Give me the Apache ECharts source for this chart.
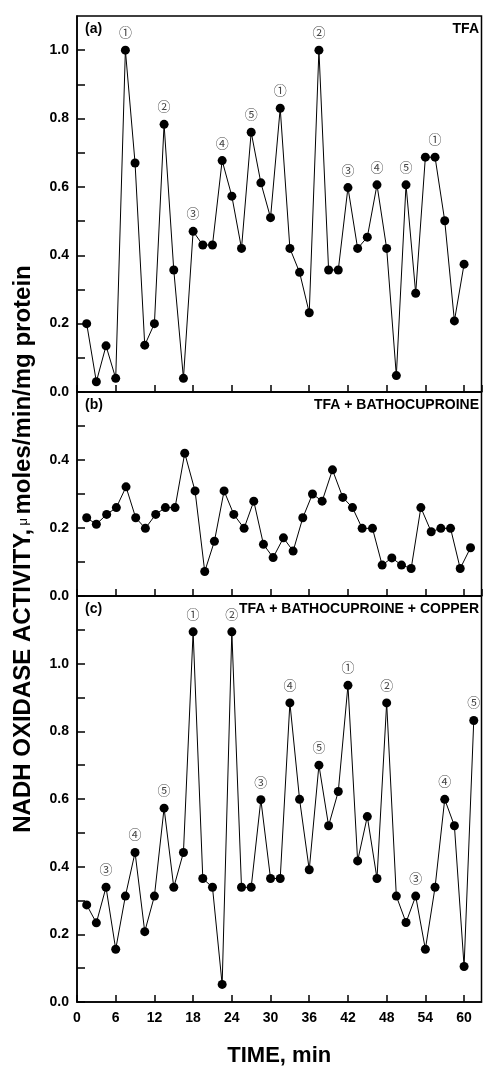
<!DOCTYPE html>
<html>
<head>
<meta charset="utf-8">
<script src="https://cdn.jsdelivr.net/npm/echarts@6/dist/echarts.min.js"></script>
<style>
  html, body { margin: 0; padding: 0; background: #fff; }
  #chart { width: 484px; height: 1068px; }
</style>
</head>
<body>
<div id="chart"></div>
<script>
// panel (a) TFA
var timesA = [1.5, 3, 4.5, 6, 7.5, 9, 10.5, 12, 13.5, 15, 16.5, 18, 19.5, 21, 22.5, 24, 25.5, 27, 28.5, 30,
  31.5, 33, 34.5, 36, 37.5, 39, 40.5, 42, 43.5, 45, 46.5, 48, 49.5, 51, 52.5, 54, 55.5, 57, 58.5, 60];
var valsA = [0.20, 0.03, 0.135, 0.04, 1.0, 0.67, 0.137, 0.20, 0.783, 0.357, 0.04, 0.47, 0.43, 0.43, 0.677, 0.573, 0.42, 0.76, 0.612, 0.51,
  0.83, 0.42, 0.35, 0.232, 1.0, 0.357, 0.357, 0.598, 0.42, 0.453, 0.606, 0.42, 0.048, 0.606, 0.289, 0.687, 0.687, 0.501, 0.208, 0.374];
var marksA = [[4, '①'], [8, '②'], [11, '③'], [14, '④'], [17, '⑤'], [20, '①'], [24, '②'], [27, '③'], [30, '④'], [33, '⑤'], [36, '①']];

// panel (b) TFA + bathocuproine
var timesB = [1.5, 3.0, 4.6, 6.1, 7.6, 9.1, 10.6, 12.2, 13.7, 15.2, 16.7, 18.3, 19.8, 21.3, 22.8, 24.3, 25.9, 27.4, 28.9, 30.4,
  32.0, 33.5, 35.0, 36.5, 38.0, 39.6, 41.2, 42.7, 44.2, 45.8, 47.3, 48.8, 50.3, 51.8, 53.3, 54.9, 56.4, 57.9, 59.4, 61.0];
var valsB = [0.23, 0.211, 0.24, 0.26, 0.321, 0.23, 0.199, 0.24, 0.26, 0.26, 0.42, 0.309, 0.072, 0.161, 0.309, 0.24, 0.199, 0.279, 0.152, 0.113,
  0.171, 0.132, 0.23, 0.30, 0.279, 0.371, 0.29, 0.26, 0.199, 0.199, 0.091, 0.112, 0.091, 0.081, 0.26, 0.189, 0.199, 0.199, 0.081, 0.142];

// panel (c) TFA + bathocuproine + copper
var timesC = [1.5, 3, 4.5, 6, 7.5, 9, 10.5, 12, 13.5, 15, 16.5, 18, 19.5, 21, 22.5, 24, 25.5, 27, 28.5, 30,
  31.5, 33, 34.5, 36, 37.5, 39, 40.5, 42, 43.5, 45, 46.5, 48, 49.5, 51, 52.5, 54, 55.5, 57, 58.5, 60, 61.5];
var valsC = [0.287, 0.234, 0.339, 0.156, 0.313, 0.442, 0.208, 0.313, 0.573, 0.339, 0.442, 1.094, 0.365, 0.339, 0.052, 1.094, 0.339, 0.339, 0.598, 0.365,
  0.365, 0.884, 0.599, 0.391, 0.70, 0.521, 0.622, 0.936, 0.417, 0.548, 0.365, 0.884, 0.313, 0.235, 0.313, 0.156, 0.339, 0.599, 0.521, 0.105, 0.832];
var marksC = [[2, '③'], [5, '④'], [8, '⑤'], [11, '①'], [15, '②'], [18, '③'], [21, '④'], [24, '⑤'], [27, '①'], [31, '②'], [34, '③'], [37, '④'], [40, '⑤']];

var xTicks = [0, 6, 12, 18, 24, 30, 36, 42, 48, 54, 60];
var yMax = [1.1, 0.6, 1.2];
var panelTags = ['(a)', '(b)', '(c)'];
var panelNames = ['TFA', 'TFA + BATHOCUPROINE', 'TFA + BATHOCUPROINE + COPPER'];

var font = 'Liberation Sans, Arial, sans-serif';
var grids = [
  { left: 77, right: 2.5, top: 16, height: 376 },
  { left: 77, right: 2.5, top: 392, height: 204 },
  { left: 77, right: 2.5, top: 596, height: 410 }
];

function markFor(list) {
  var m = {};
  list.forEach(function (p) { m[p[0]] = p[1]; });
  return function (params) { return m[params.dataIndex] || ''; };
}

function pairs(ts, vs) {
  return ts.map(function (t, i) { return [t, vs[i]]; });
}

var option = {
  animation: false,
  backgroundColor: '#fff',
  grid: grids.map(function (g) {
    return Object.assign({ show: true, borderColor: '#000', borderWidth: 1.5, backgroundColor: 'transparent' }, g);
  }),
  xAxis: [0, 1, 2].map(function (i) {
    return {
      type: 'value', gridIndex: i, min: 0, max: 62.7, interval: 6,
      axisLine: { show: true, lineStyle: { color: '#000', width: 1.5 } },
      axisTick: { show: true, inside: true, length: 7, lineStyle: { color: '#000', width: 1.5 } },
      splitLine: { show: false },
      axisLabel: {
        show: i === 2, color: '#000', fontFamily: font, fontWeight: 'bold', fontSize: 14, margin: 9,
        showMaxLabel: false,
        formatter: function (v) { return xTicks.indexOf(v) >= 0 ? String(v) : ''; }
      },
      name: i === 2 ? 'TIME, min' : '',
      nameLocation: 'middle', nameGap: 43,
      nameTextStyle: { color: '#000', fontFamily: font, fontWeight: 'bold', fontSize: 22 }
    };
  }),
  yAxis: [0, 1, 2].map(function (i) {
    return {
      type: 'value', gridIndex: i, min: 0, max: yMax[i], interval: 0.1,
      axisLine: { show: true, lineStyle: { color: '#000', width: 1.5 } },
      axisTick: { show: true, inside: true, length: 8, lineStyle: { color: '#000', width: 1.5 } },
      splitLine: { show: false },
      axisLabel: {
        color: '#000', fontFamily: font, fontWeight: 'bold', fontSize: 14, margin: 8,
        showMaxLabel: false,
        formatter: function (v) {
          var k = Math.round(v * 10);
          return k % 2 === 0 ? (k / 10).toFixed(1) : '';
        }
      }
    };
  }),
  series: [
    [timesA, valsA, marksA],
    [timesB, valsB, []],
    [timesC, valsC, marksC]
  ].map(function (s, i) {
    return {
      type: 'line', xAxisIndex: i, yAxisIndex: i,
      data: pairs(s[0], s[1]),
      symbol: 'circle', symbolSize: 9,
      itemStyle: { color: '#000' },
      lineStyle: { color: '#000', width: 1 },
      label: {
        show: true, position: 'top', distance: 7,
        color: '#444', fontSize: 13, fontFamily: 'Noto Sans CJK JP, DejaVu Sans, sans-serif',
        formatter: markFor(s[2])
      }
    };
  }),
  graphic: []
};

grids.forEach(function (g, i) {
  var cy = g.top + 14.5;
  option.graphic.push({
    type: 'text', left: 85, top: cy - 8,
    style: { text: panelTags[i], fill: '#000', font: 'bold 14px ' + font }
  });
  option.graphic.push({
    type: 'text', right: 5, top: cy - 8,
    style: { text: panelNames[i], fill: '#000', font: 'bold 14px ' + font }
  });
});

option.graphic.push({
  type: 'text', x: 23, y: 549, rotation: Math.PI / 2,
  style: {
    text: '{b|NADH OXIDASE ACTIVITY,} {m|μ} {b|moles/min/mg protein}',
    align: 'center', verticalAlign: 'middle',
    rich: {
      b: { fontFamily: font, fontWeight: 'bold', fontSize: 24, fill: '#000' },
      m: { fontFamily: font, fontSize: 13, fill: '#000' }
    }
  }
});

var chart = echarts.init(document.getElementById('chart'));
chart.setOption(option);
</script>
</body>
</html>
